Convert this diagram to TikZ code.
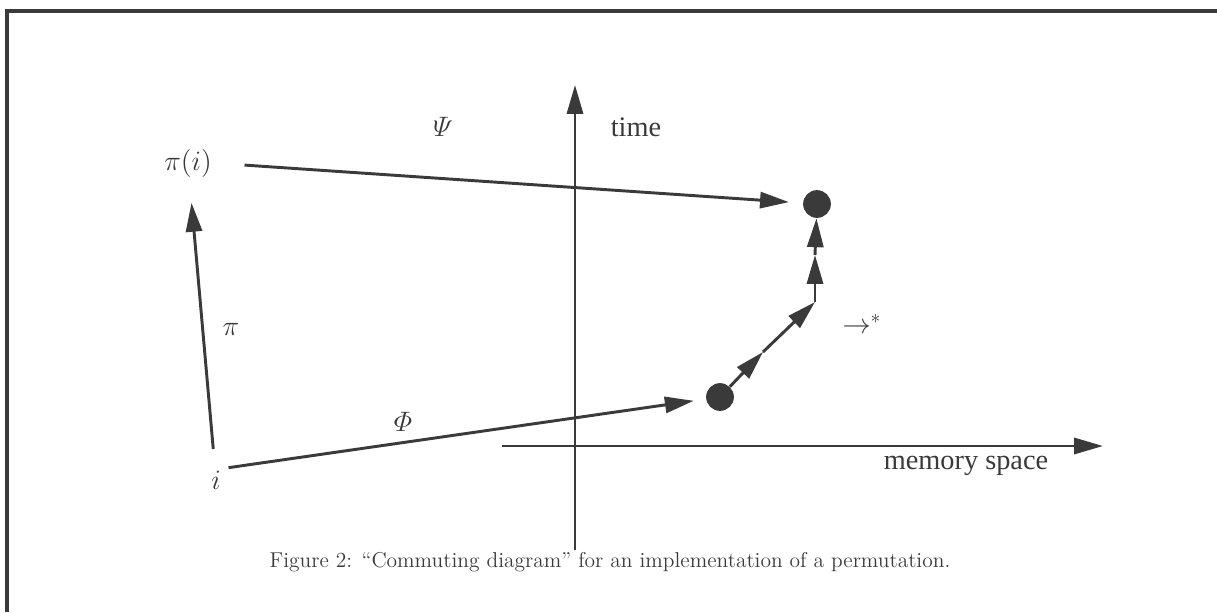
\documentclass[tikz,border=0pt]{standalone}
\usepackage{amsmath, amssymb}
\usepackage{fontspec}
\newfontfamily\labelfont{Liberation Serif}
\usepackage{tikz}
\usetikzlibrary{arrows.meta, positioning, calc}
\usepackage{xcolor}
\definecolor{inkgray}{HTML}{3A3A3A}

\begin{document}
\begin{tikzpicture}[
  x=0.018cm, y=-0.018cm,
  ink/.style={draw=inkgray, line width=1.5pt},
  dot/.style={circle, fill=inkgray, minimum size=0.5cm, inner sep=0pt},
  lbl/.style={font=\labelfont\fontsize{14.5}{16}\selectfont, text=inkgray,
    inner sep=1pt},
  >={Triangle[length=0.52cm, width=0.29cm]}
]
  \useasboundingbox (0,0) rectangle (1217,612);

  % Frame
  \draw[inkgray, line width=1.6pt] (7,612) -- (7,11) -- (1217,11);

  % Axes
  \coordinate (tbot) at (575,550);
  \coordinate (ttop) at (575,85);
  \coordinate (mleft) at (502,446);
  \coordinate (mright) at (1103,446);
  \draw[ink, ->] (tbot) -- (ttop);
  \draw[ink, ->] (mleft) -- (mright);
  \node[lbl] (time) at (636,127) {time};
  \node[lbl] (mem) at (966,466) {memory space};

  % Objects
  \node[lbl] (pii) at (188,163) {$\pi(i)$};
  \node[lbl] (i) at (216,480) {$i$};
  \node[dot] (top) at (817,204) {};
  \node[dot] (low) at (720,397) {};

  % Maps
  \draw[ink, ->, shorten <=0.56cm, shorten >=0.72cm] (i.center) -- (pii.center);
  \node[lbl] (pilbl) at (231,329) {$\pi$};
  \draw[ink, ->, shorten <=0.1cm, shorten >=0.22cm] (i.north east) -- (low);
  \node[lbl] (philbl) at (403,422) {$\varPhi$};
  \draw[ink, ->, shorten <=0.55cm, shorten >=0.25cm] (pii.east) -- (top);
  \node[lbl] (psilbl) at (443,127) {$\varPsi$};

  % Steps
  \coordinate (s1) at (763,352);
  \coordinate (s2) at (815,302);
  \coordinate (s3) at (815,255);
  \draw[ink, ->] (low) -- (s1);
  \draw[ink, ->] (s1) -- (s2);
  \draw[ink, ->] (s2) -- (s3);
  \draw[ink, ->] (s3) -- (top);
  \node[lbl] (star) at (862,324) {$\rightarrow^{*}$};

  % Caption
  \node[font=\fontsize{11}{13}\selectfont, text=inkgray] (cap) at (610,562)
    {Figure 2: ``Commuting diagram'' for an implementation of a permutation.};
\end{tikzpicture}
\end{document}
